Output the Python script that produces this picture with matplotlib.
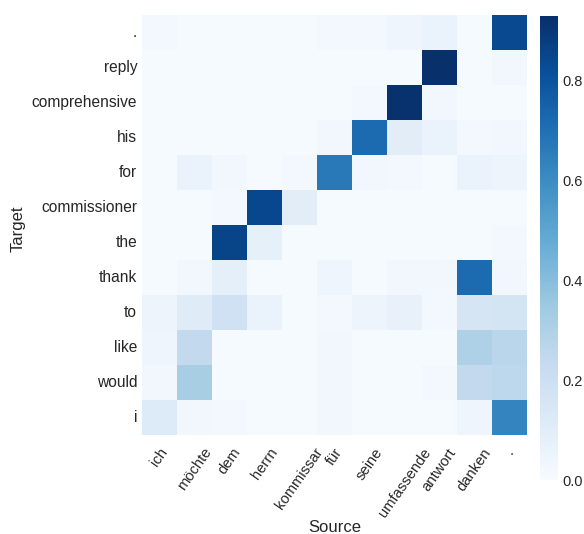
import numpy as np
import matplotlib
matplotlib.use("Agg")
import matplotlib.pyplot as plt
import seaborn as sns

# source words (columns) and target words (rows, top to bottom)
source = ["ich", "möchte", "dem", "herrn", "kommissar", "für", "seine",
          "umfassende", "antwort", "danken", "."]
target = [".", "reply", "comprehensive", "his", "for", "commissioner",
          "the", "thank", "to", "like", "would", "i"]

# attention weights, one row per target word
row_dot = [0.02, 0.01, 0.01, 0.01, 0.01, 0.02, 0.02, 0.04, 0.06, 0.01, 0.84]
row_reply = [0.01, 0.01, 0.01, 0.01, 0.01, 0.01, 0.01, 0.01, 0.93, 0.01, 0.03]
row_comprehensive = [0.01, 0.01, 0.01, 0.01, 0.01, 0.01, 0.02, 0.92, 0.03, 0.01, 0.01]
row_his = [0.01, 0.01, 0.01, 0.01, 0.01, 0.03, 0.72, 0.10, 0.06, 0.02, 0.03]
row_for = [0.01, 0.06, 0.03, 0.01, 0.02, 0.67, 0.03, 0.02, 0.01, 0.06, 0.05]
row_commissioner = [0.01, 0.01, 0.02, 0.85, 0.10, 0.01, 0.01, 0.01, 0.01, 0.01, 0.01]
row_the = [0.01, 0.01, 0.86, 0.08, 0.01, 0.01, 0.01, 0.01, 0.01, 0.01, 0.02]
row_thank = [0.01, 0.03, 0.09, 0.01, 0.01, 0.04, 0.01, 0.03, 0.03, 0.72, 0.03]
row_to = [0.05, 0.11, 0.19, 0.06, 0.01, 0.02, 0.05, 0.07, 0.02, 0.16, 0.17]
row_like = [0.04, 0.24, 0.01, 0.01, 0.01, 0.03, 0.01, 0.01, 0.01, 0.30, 0.27]
row_would = [0.03, 0.32, 0.01, 0.01, 0.01, 0.03, 0.01, 0.01, 0.02, 0.24, 0.26]
row_i = [0.12, 0.03, 0.02, 0.01, 0.01, 0.03, 0.01, 0.01, 0.01, 0.04, 0.63]

attention = np.array([row_dot, row_reply, row_comprehensive, row_his, row_for,
                      row_commissioner, row_the, row_thank, row_to, row_like,
                      row_would, row_i])

sns.set_style("white")
plt.rcParams["font.family"] = ["Liberation Sans", "DejaVu Sans"]

W, H = 584, 534
fig = plt.figure(figsize=(W / 100, H / 100), dpi=100)
ax = fig.add_axes([142 / W, 1 - 435 / H, 385 / W, 420 / H])
cax = fig.add_axes([540 / W, 1 - 480 / H, 18 / W, 464 / H])

sns.heatmap(attention, cmap="Blues", xticklabels=source, yticklabels=target,
            ax=ax, cbar_ax=cax, vmin=0)

ax.tick_params(axis="x", labelsize=10.6, length=0, pad=7.5)
ax.tick_params(axis="y", labelsize=11.2, length=0, pad=3.5)
plt.setp(ax.get_xticklabels(), rotation=55, ha="center")
plt.setp(ax.get_yticklabels(), rotation=0)
ax.set_xlabel("Source", fontsize=12)
ax.set_ylabel("Target", fontsize=12)
ax.xaxis.set_label_coords(0.5, -0.221)
ax.xaxis.label.set_va("center")
ax.yaxis.set_label_coords(-0.321, 0.49)
ax.yaxis.label.set_va("center")

cax.tick_params(labelsize=10.5, length=0, pad=3)
cax.set_yticks([0.0, 0.2, 0.4, 0.6, 0.8])
for s in cax.spines.values():
    s.set_visible(False)

fig.savefig("out.png", dpi=100)
